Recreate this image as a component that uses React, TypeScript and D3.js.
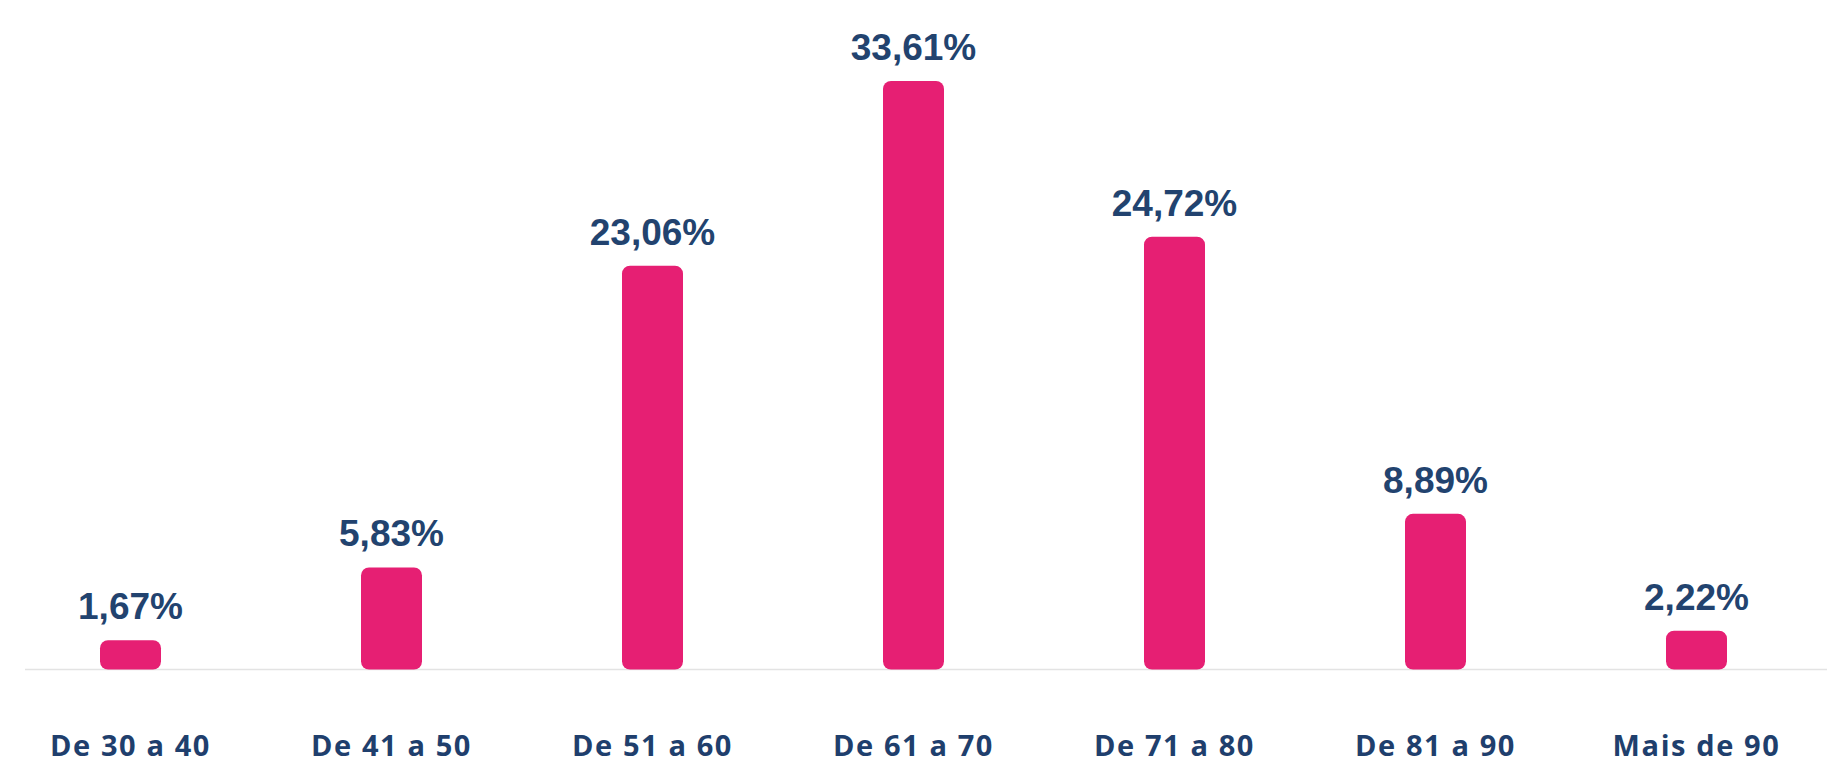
import React, { useRef, useEffect } from 'react';
import * as d3 from 'd3';

const categories: string[] = ['De 30 a 40', 'De 41 a 50', 'De 51 a 60', 'De 61 a 70', 'De 71 a 80', 'De 81 a 90', 'Mais de 90'];
const values: number[] = [1.67, 5.83, 23.06, 33.61, 24.72, 8.89, 2.22];
const valueLabels: string[] = ['1,67%', '5,83%', '23,06%', '33,61%', '24,72%', '8,89%', '2,22%'];

const W = 1845;
const H = 780;
const baseY = 669.5;

const App: React.FC = () => {
  const svgRef = useRef<SVGSVGElement | null>(null);

  useEffect(() => {
    const svg = d3.select(svgRef.current);
    svg.selectAll('*').remove();

    const x = d3.scaleBand<string>()
      .domain(categories)
      .range([0, 1827])
      .paddingInner(0)
      .paddingOuter(0);

    const y = d3.scaleLinear()
      .domain([0, 33.61])
      .range([baseY, 81]);

    const barW = 61;

    // baseline
    svg.append('line')
      .attr('x1', 25)
      .attr('x2', 1827)
      .attr('y1', baseY)
      .attr('y2', baseY)
      .attr('stroke', '#e3e3e3')
      .attr('stroke-width', 1.5);

    svg.selectAll('.bar')
      .data(values)
      .enter()
      .append('rect')
      .attr('class', 'bar')
      .attr('x', (d, i) => x(categories[i])! + x.bandwidth() / 2 - barW / 2)
      .attr('y', d => y(d))
      .attr('width', barW)
      .attr('height', d => baseY - y(d))
      .attr('rx', 8)
      .attr('fill', '#E61F73');

    svg.selectAll('.val')
      .data(values)
      .enter()
      .append('text')
      .attr('class', 'val')
      .attr('x', (d, i) => x(categories[i])! + x.bandwidth() / 2)
      .attr('y', d => y(d) - 21)
      .attr('text-anchor', 'middle')
      .style('font-family', '"Liberation Sans", Arial, sans-serif')
      .style('font-weight', 700)
      .style('font-size', '37px')
      .attr('fill', '#22436f')
      .text((d, i) => valueLabels[i]);

    svg.selectAll('.cat')
      .data(categories)
      .enter()
      .append('text')
      .attr('class', 'cat')
      .attr('x', d => x(d)! + x.bandwidth() / 2)
      .attr('y', 756)
      .attr('text-anchor', 'middle')
      .style('font-family', '"Open Sans", sans-serif')
      .style('font-weight', 700)
      .style('font-size', '29px')
      .style('letter-spacing', '1.6px')
      .attr('fill', '#1f3f6d')
      .text(d => d);
  }, []);

  return (
    <svg
      ref={svgRef}
      width={W}
      height={H}
      style={{ position: 'absolute', left: 0, top: 0, background: '#ffffff' }}
    />
  );
};

export default App;
